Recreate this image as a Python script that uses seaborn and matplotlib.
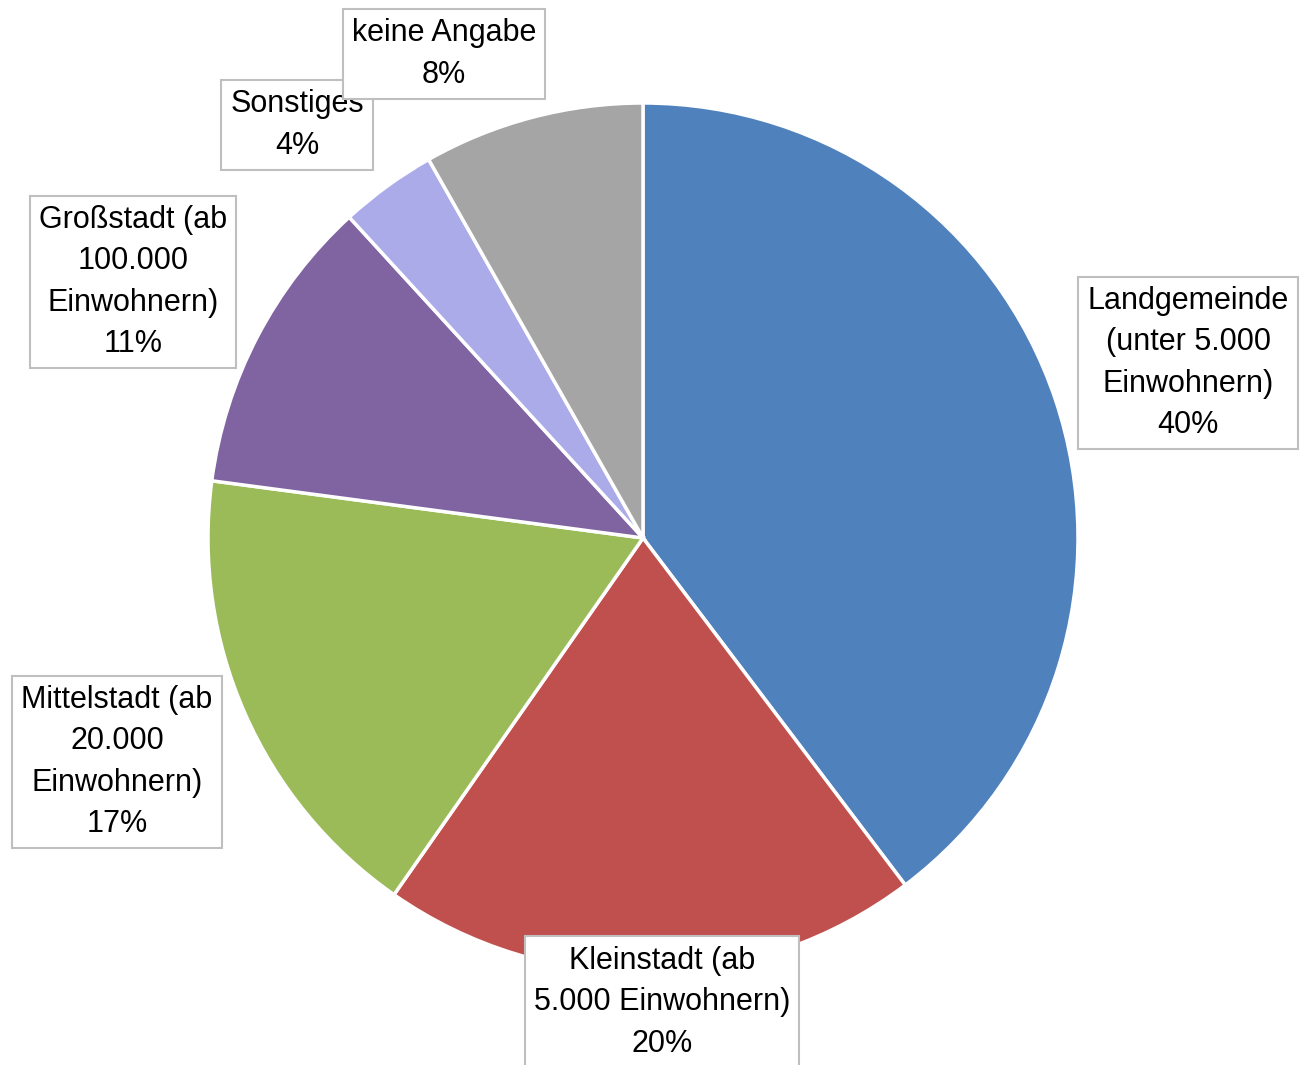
import matplotlib
matplotlib.use("Agg")
import matplotlib.pyplot as plt
import seaborn as sns

# Werte (Winkel der Segmente geschätzt)
kategorien = ["Landgemeinde\n(unter 5.000\nEinwohnern)", "Kleinstadt (ab\n5.000 Einwohnern)",
              "Mittelstadt (ab\n20.000\nEinwohnern)", "Großstadt (ab\n100.000\nEinwohnern)",
              "Sonstiges", "keine Angabe"]
anteile = [39.7, 20.0, 17.4, 11.1, 3.6, 8.2]
farben = ["#4F81BD", "#C0504D", "#9BBB59", "#8064A2", "#ABABEA", "#A5A5A5"]

# Lage der Beschriftungen (Pixel, von oben)
label_pos = [(1188, 363), (662, 1002), (117, 762), (133, 282), (297, 125), (444, 54)]

sns.set_theme(style="white")
plt.rcParams['font.family'] = ['Liberation Sans', 'DejaVu Sans']

W, H = 1307, 1065
fig = plt.figure(figsize=(W / 100, H / 100), dpi=100)
ax = fig.add_axes([0, 0, 1, 1])

ax.pie(anteile, colors=farben, startangle=90, counterclock=False,
       center=(643, H - 538), radius=435,
       wedgeprops=dict(edgecolor="white", linewidth=2.5), frame=True)
ax.set_xlim(0, W)
ax.set_ylim(0, H)
ax.set_aspect("equal")
ax.axis("off")

for i, (kat, wert) in enumerate(zip(kategorien, anteile)):
    x, y = label_pos[i]
    ax.text(x, H - y, f"{kat}\n{round(wert)}%", ha="center", va="center", fontsize=22,
            linespacing=1.5, color="black", zorder=5 + i,
            bbox=dict(boxstyle="square,pad=0.3", facecolor="white", edgecolor="#BFBFBF", linewidth=1.5))

fig.savefig("out.png", dpi=100)
